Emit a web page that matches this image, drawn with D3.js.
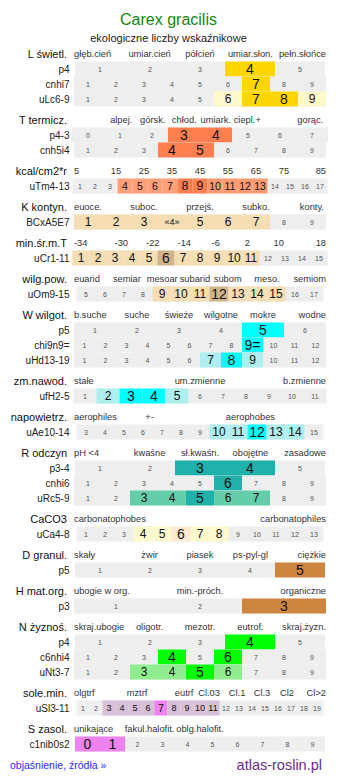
<!DOCTYPE html>
<html>
<head>
<meta charset="utf-8">
<script src="https://cdn.jsdelivr.net/npm/d3@7"></script>
<style>
  body { margin: 0; background: #fff; }
  svg { display: block; font-family: "Liberation Sans", Arial, sans-serif; }
</style>
</head>
<body>
<script>
const width = 337, height = 781;

const title = 'Carex gracilis';
const subtitle = 'ekologiczne liczby wskaźnikowe';

// sections: title on the left + category labels above the bars
const sectionTitles = ['L świetl.', 'T termicz.', 'kcal/cm2*r', 'K kontyn.', 'min.śr.m.T', 'wilg.pow.',
    'W wilgot.', 'zm.nawod.', 'napowietrz.', 'R odczyn', 'CaCO3', 'D granul.', 'H mat.org.',
    'N żyznoś.', 'sole.min.', 'S zasol.'];

const headerLabels = [
    ['głęb.cień', 'umiar.cień', 'półcień', 'umiar.słon.', 'pełn.słońce'],
    ['alpej.', 'górsk.', 'chłod.', 'umiark.', 'ciepl.+', 'gorąc.'],
    ['5', '15', '25', '35', '45', '55', '65', '75', '85'],
    ['euoce.', 'suboc.', 'przejś.', 'subko.', 'konty.'],
    ['-34', '-30', '-22', '-14', '-6', '2', '10', '18'],
    ['euarid', 'semiar', 'mesoar', 'subarid', 'subom', 'meso.', 'semiom'],
    ['b.suche', 'suche', 'świeże', 'wilgotne', 'mokre', 'wodne'],
    ['stałe', 'um.zmienne', 'b.zmienne'],
    ['aerophiles', '+-', 'aerophobes'],
    ['pH <4', 'kwaśne', 'sł.kwaśn.', 'obojętne', 'zasadowe'],
    ['carbonatophobes', 'carbonatophiles'],
    ['skały', 'żwir', 'piasek', 'ps-pyl-gl', 'ciężkie'],
    ['ubogie w org.', 'min.-próch.', 'organiczne'],
    ['skraj.ubogie', 'oligotr.', 'mezotr.', 'eutrof.', 'skraj.żyzn.'],
    ['olgtrf', 'mztrf', 'eutrf', 'Cl.03', 'Cl.1', 'Cl.3', 'Cl2', 'Cl>2'],
    ['unikające', 'fakul.halofit.', 'oblg.halofit.']
];

// rows: name, section, first and last category, marked values
const rowNames = ['p4', 'cnhi7', 'uLc6-9', 'p4-3', 'cnh5i4', 'uTm4-13', 'BCxA5E7', 'uCr1-11', 'uOm9-15',
    'p5', 'chi9n9=', 'uHd13-19', 'ufH2-5', 'uAe10-14', 'p3-4', 'cnhi6', 'uRc5-9', 'uCa4-8', 'p5', 'p3',
    'p4', 'c6nhi4', 'uNt3-7', 'uSl3-11', 'c1nib0s2'];
const rowSection = [0, 0, 0, 1, 1, 2, 3, 4, 5, 6, 6, 6, 7, 8, 9, 9, 9, 10, 11, 12, 13, 13, 13, 14, 15];
const rowFirst = [1, 1, 1, 0, 1, 1, 1, 1, 5, 1, 1, 1, 1, 3, 1, 1, 1, 1, 1, 1, 1, 1, 1, 1, 0];
const rowLast = [5, 9, 9, 7, 9, 17, 9, 15, 17, 6, 12, 12, 11, 15, 5, 9, 9, 13, 5, 3, 5, 9, 9, 19, 9];
// a = main value, b = range, c = second range
const rowMarks = [
    { 4: 'a' },
    { 7: 'a' },
    { 6: 'b', 7: 'a', 8: 'a', 9: 'b' },
    { 3: 'a', 4: 'a' },
    { 4: 'a', 5: 'a' },
    { 4: 'b', 5: 'b', 6: 'b', 7: 'b', 8: 'a', 9: 'a', 10: 'c', 11: 'c', 12: 'c', 13: 'c' },
    { 1: 'b', 2: 'b', 3: 'b', 4: 'b', 5: 'b', 6: 'b', 7: 'b' },
    { 1: 'b', 2: 'b', 3: 'b', 4: 'b', 5: 'b', 6: 'a', 7: 'b', 8: 'b', 9: 'b', 10: 'b', 11: 'b' },
    { 9: 'b', 10: 'b', 11: 'b', 12: 'a', 13: 'b', 14: 'b', 15: 'b' },
    { 5: 'a' },
    { 9: 'a' },
    { 7: 'b', 8: 'a', 9: 'b' },
    { 2: 'b', 3: 'a', 4: 'a', 5: 'b' },
    { 10: 'b', 11: 'b', 12: 'a', 13: 'b', 14: 'b' },
    { 3: 'a', 4: 'a' },
    { 6: 'a' },
    { 3: 'b', 4: 'b', 5: 'a', 6: 'b', 7: 'b' },
    { 4: 'b', 5: 'b', 6: 'a', 7: 'b', 8: 'b' },
    { 5: 'a' },
    { 3: 'a' },
    { 4: 'a' },
    { 4: 'a', 6: 'a' },
    { 3: 'b', 4: 'b', 5: 'a', 6: 'b' },
    { 3: 'b', 4: 'b', 5: 'b', 6: 'b', 7: 'a', 8: 'b', 9: 'b', 10: 'b', 11: 'b' },
    { 0: 'a', 1: 'a' }
];
const cellText = { 6: { 4: '«4»' }, 10: { 9: '9=' } };

// --- layout / style ---
const headerAt = [
    [0, .3, .5, .7, 1],
    [.1875, .3125, .4375, .5625, .6875, .9375],
    [0, .1667, .2778, .3889, .5, .6111, .7222, .8333, 1],
    [0, .2778, .5, .7222, .944],
    [0, .1875, .3125, .4375, .5625, .6875, .8125, 1],
    [0, .21, .35, .48, .61, .766, 1],
    [0, .25, .4167, .5833, .75, 1],
    [0, .5, 1],
    [0, .3, .7],
    [0, .3, .5, .7, 1],
    [0, 1],
    [0, .3, .5, .7, 1],
    [0, .5, 1],
    [0, .3, .5, .7, 1],
    [0, .25, .437, .536, .647, .746, .845, 1],
    [0, .3, .5]
];
const tones = [
    { a: '#FFD700', b: '#FFFACD' },
    { a: '#FF7F50' },
    { a: '#FF7F50', b: '#FFA07A', c: '#FF9A70' },
    { b: '#F5DEB3' },
    { a: '#D2B48C', b: '#F5DEB3' },
    { a: '#D2B48C', b: '#F5DEB3' },
    { a: '#00FFFF', b: '#AFEEEE' },
    { a: '#00FFFF', b: '#AFEEEE' },
    { a: '#00FFFF', b: '#AFEEEE' },
    { a: '#20B2AA', b: '#66CDAA' },
    { a: '#FFEBD3', b: '#FFFACD' },
    { a: '#CD853F' },
    { a: '#CD853F' },
    { a: '#00FF00', b: '#90EE90' },
    { a: '#EE82EE', b: '#D8BFD8' },
    { a: '#EE82EE' }
];
const toneSize = (t, w) => t === 'a' ? Math.min(14, w * 0.82) : Math.min(12, w * 0.7);

const barCenter = 200, barSpan = 252, rowH = 15;
const headX = d3.scaleLinear().domain([0, 1]).range([74, 326]);

const svg = d3.select('body')
    .append('svg')
    .attr('width', width)
    .attr('height', height);

svg.append('text')
    .attr('x', width / 2).attr('y', 25)
    .attr('text-anchor', 'middle')
    .style('font-size', '16px')
    .style('fill', '#118811')
    .text(title);

svg.append('text')
    .attr('x', width / 2).attr('y', 42)
    .attr('text-anchor', 'middle')
    .style('font-size', '11px')
    .style('fill', '#222')
    .text(subtitle);

// vertical positions
let y = 54;
const headY = [], rowTop = [];
sectionTitles.forEach((t, si) => {
    headY[si] = y;
    let top = y + 7.5;
    rowNames.forEach((r, ri) => {
        if (rowSection[ri] === si) { rowTop[ri] = top; top += rowH; }
    });
    y = top + 13.5;
});

// section headers
sectionTitles.forEach((t, si) => {
    svg.append('text')
        .attr('x', 67).attr('y', headY[si] + 4)
        .attr('text-anchor', 'end')
        .style('font-size', '11px')
        .style('fill', '#111')
        .text(t);

    svg.append('g').selectAll('text')
        .data(headerLabels[si])
        .enter()
        .append('text')
        .attr('x', (d, i) => headX(headerAt[si][i]))
        .attr('y', headY[si] + 3.3)
        .attr('text-anchor', (d, i) => headerAt[si][i] === 0 ? 'start' : headerAt[si][i] === 1 ? 'end' : 'middle')
        .style('font-size', '9.3px')
        .style('fill', '#333')
        .text(d => d);
});

// rows
rowNames.forEach((name, ri) => {
    const si = rowSection[ri];
    const cats = d3.range(rowFirst[ri], rowLast[ri] + 1);
    const n = cats.length, w = Math.round(barSpan / n);
    const x = d3.scaleBand()
        .domain(cats)
        .range([barCenter - n * w / 2, barCenter + n * w / 2]);
    const top = rowTop[ri];
    const marks = rowMarks[ri];
    const texts = cellText[ri] || {};

    const g = svg.append('g').attr('transform', `translate(0,${top})`);

    g.append('rect')
        .attr('x', x.range()[0]).attr('y', 0)
        .attr('width', x.range()[1] - x.range()[0]).attr('height', rowH)
        .style('fill', '#eeeeee');

    g.selectAll('rect.mark')
        .data(cats.filter(c => marks[c]))
        .enter()
        .append('rect')
        .attr('class', 'mark')
        .attr('x', d => x(d)).attr('y', 0)
        .attr('width', x.bandwidth()).attr('height', rowH)
        .style('fill', d => tones[si][marks[d]]);

    g.selectAll('text.cell')
        .data(cats)
        .enter()
        .append('text')
        .attr('class', 'cell')
        .attr('x', d => x(d) + x.bandwidth() / 2)
        .attr('y', rowH / 2)
        .attr('dy', '0.36em')
        .attr('text-anchor', 'middle')
        .style('font-size', d => texts[d] && texts[d].includes('«') ? '9px'
            : marks[d] ? toneSize(marks[d], w) + 'px' : '7px')
        .style('fill', d => marks[d] ? '#111' : '#555')
        .text(d => texts[d] || d);

    svg.append('text')
        .attr('x', 69.5).attr('y', top + rowH / 2)
        .attr('dy', '0.36em')
        .attr('text-anchor', 'end')
        .style('font-size', '10px')
        .style('fill', '#222')
        .text(name);
});

// footer
svg.append('text')
    .attr('x', 10).attr('y', y + 4)
    .style('font-size', '10.5px')
    .style('fill', '#2b2bff')
    .text('objaśnienie, źródła »');

svg.append('text')
    .attr('x', 322).attr('y', y + 5)
    .attr('text-anchor', 'end')
    .style('font-size', '14.5px')
    .style('fill', '#6a2c8c')
    .text('atlas-roslin.pl');
</script>
</body>
</html>
